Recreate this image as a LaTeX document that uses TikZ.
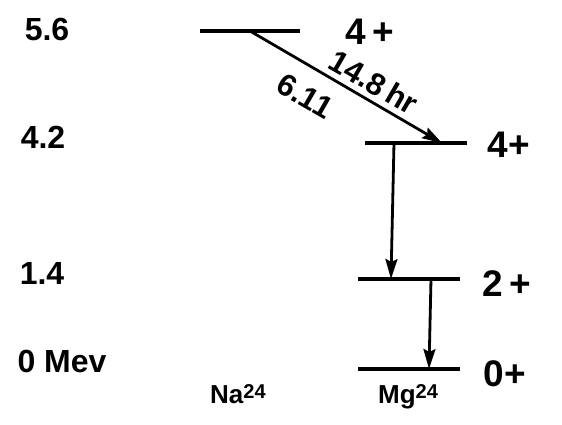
\documentclass[tikz,border=0pt]{standalone}
\usepackage{fontspec}
\setmainfont{Liberation Sans}
\usetikzlibrary{arrows.meta}
\newcommand{\supnum}[1]{\raisebox{5pt}{\fontsize{20}{20}\selectfont\bfseries #1}}
\begin{document}
\begin{tikzpicture}[x=1pt,y=-1pt,
  lvl/.style={line width=3.2pt},
  arr/.style={line width=2.8pt,-{Stealth[length=20pt,width=12pt,inset=3pt]}},
  elbl/.style={font=\fontsize{32}{34}\selectfont\bfseries,inner sep=0pt},
  slbl/.style={font=\fontsize{37}{40}\selectfont\bfseries,inner sep=0pt},
  tlbl/.style={font=\fontsize{31}{34}\selectfont\bfseries,inner sep=0pt,rotate=-30},
  nlbl/.style={font=\fontsize{26}{28}\selectfont\bfseries,inner sep=0pt,anchor=base west}]
\useasboundingbox[fill=white] (0,0) rectangle (562,425);
% levels
\coordinate (na1) at (200,31); \coordinate (na2) at (300,31);
\coordinate (m4a) at (365,143); \coordinate (m4b) at (467,143);
\coordinate (m2a) at (358,279); \coordinate (m2b) at (460,279);
\coordinate (m0a) at (358,369); \coordinate (m0b) at (460,369);
\draw[lvl] (na1) -- (na2);
\draw[lvl] (m4a) -- (m4b);
\draw[lvl] (m2a) -- (m2b);
\draw[lvl] (m0a) -- (m0b);
% transitions
\coordinate (b1) at (250,31); \coordinate (b2) at (442,143);
\draw[arr] (b1) -- (b2);
\coordinate (g1a) at (394,143); \coordinate (g1b) at (391,279);
\draw[arr] (g1a) -- (g1b);
\coordinate (g2a) at (431,279); \coordinate (g2b) at (429,369);
\draw[arr] (g2a) -- (g2b);
% energy labels
\node[elbl] (e1) at (47,29) {5.6};
\node[elbl] (e2) at (43,137) {4.2};
\node[elbl] (e3) at (42,273) {1.4};
\node[elbl] (e4) at (62,361) {0 Mev};
% spins
\node[slbl] (s1) at (370,32) {4\,+};
\node[slbl] (s2) at (509,145) {4+};
\node[slbl] (s3) at (507,284) {2\,+};
\node[slbl] (s4) at (505,374) {0+};
% arrow labels
\node[tlbl] (t1) at (374,82) {14.8\,hr};
\node[tlbl] (t2) at (305,96) {6.11};
% nuclei
\node[nlbl] (n1) at (210,403) {Na\supnum{24}};
\node[nlbl] (n2) at (378,403) {Mg\supnum{24}};
\end{tikzpicture}
\end{document}
